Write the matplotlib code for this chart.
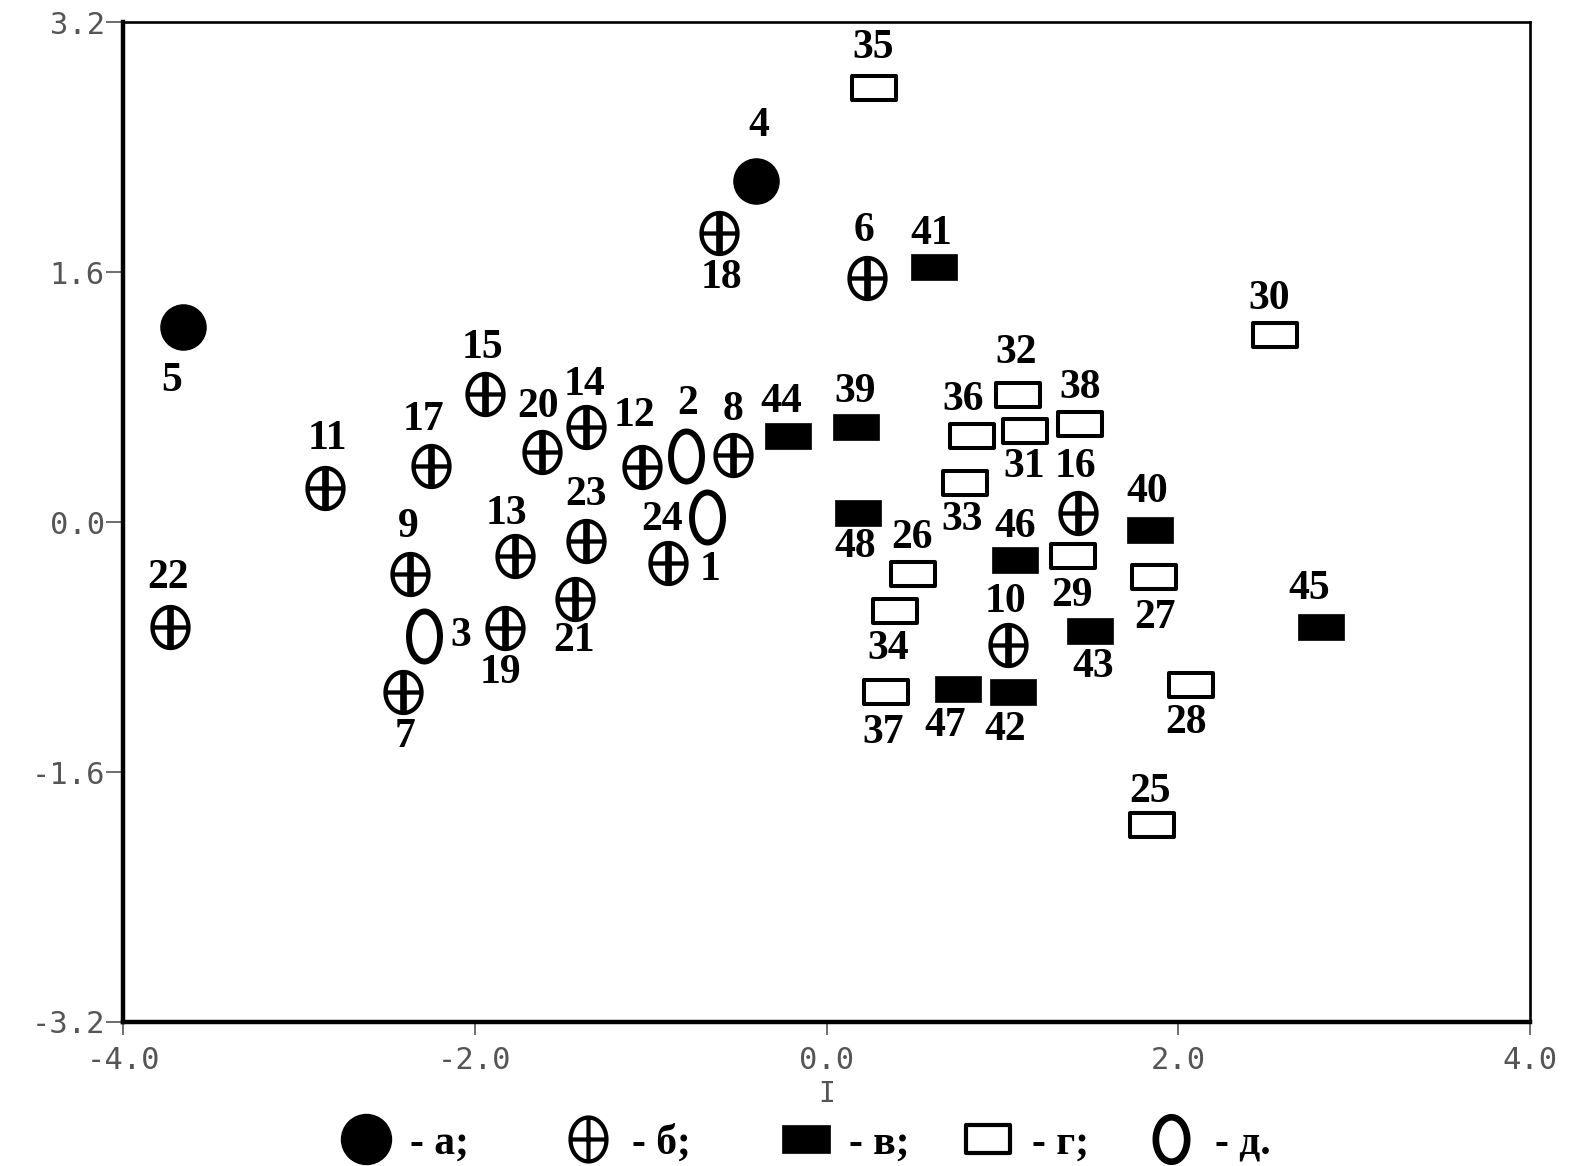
import numpy as np
import matplotlib
matplotlib.use("Agg")
import matplotlib.pyplot as plt
from matplotlib.path import Path
from matplotlib.lines import Line2D

# ---- data (component I vs component II) ----
grp_a_ids = [4, 5]
grp_a_x = [-0.40, -3.66]
grp_a_y = [2.18, 1.25]

grp_b_ids = [18, 6, 15, 14, 20, 17, 11, 12, 8, 23, 13, 9, 1, 21, 19, 22, 7, 16, 10]
grp_b_x = [-0.61, 0.23, -1.94, -1.37, -1.62, -2.25, -2.85, -1.05, -0.53, -1.37,
           -1.77, -2.37, -0.90, -1.43, -1.83, -3.73, -2.41, 1.43, 1.03]
grp_b_y = [1.85, 1.56, 0.82, 0.61, 0.45, 0.36, 0.22, 0.35, 0.43, -0.12,
           -0.22, -0.33, -0.26, -0.49, -0.68, -0.67, -1.09, 0.06, -0.79]

grp_v_ids = [41, 44, 39, 48, 46, 40, 43, 45, 47, 42]
grp_v_x = [0.61, -0.22, 0.17, 0.18, 1.07, 1.84, 1.50, 2.81, 0.75, 1.06]
grp_v_y = [1.63, 0.55, 0.61, 0.06, -0.24, -0.05, -0.70, -0.67, -1.07, -1.09]

grp_g_ids = [35, 30, 32, 38, 36, 31, 33, 29, 26, 27, 34, 37, 28, 25]
grp_g_x = [0.27, 2.55, 1.09, 1.44, 0.83, 1.13, 0.79, 1.40, 0.49, 1.86, 0.39, 0.34, 2.07, 1.85]
grp_g_y = [2.78, 1.20, 0.81, 0.63, 0.55, 0.58, 0.25, -0.22, -0.33, -0.35, -0.57, -1.09, -1.04, -1.94]

grp_d_ids = [2, 24, 3]
grp_d_x = [-0.80, -0.68, -2.29]
grp_d_y = [0.42, 0.03, -0.73]

legend_labels = ["- а;", "- б;", "- в;", "- г;", "- д."]
x_ticks = [-4.0, -2.0, 0.0, 2.0, 4.0]
y_ticks = [-3.2, -1.6, 0.0, 1.6, 3.2]

# label offsets in pixels (dx, dy), keyed by point number
label_off = {
    4: (3, 55), 5: (-11, -54),
    18: (2, -45), 6: (-3, 47), 15: (-3, 46), 14: (-1, 42), 20: (-4, 45),
    17: (-7, 46), 11: (2, 49), 12: (-7, 51), 8: (0, 45), 23: (0, 46),
    13: (-9, 42), 9: (-1, 47), 1: (42, -7), 21: (-1, -42), 19: (-4, -45),
    22: (-2, 49), 7: (2, -45), 16: (-3, 46), 10: (-2, 43),
    2: (2, 52), 24: (-45, -3), 3: (37, 0),
    41: (-3, 33), 44: (-7, 34), 39: (-1, 35), 48: (-3, -34), 46: (0, 33),
    40: (-3, 38), 43: (3, -36), 45: (-12, 38), 47: (-13, -37), 42: (-8, -38),
    35: (-1, 40), 30: (-6, 36), 32: (-2, 42), 38: (0, 36), 36: (-9, 36),
    31: (-1, -36), 33: (-3, -37), 29: (-1, -40), 26: (-1, 36), 27: (1, -41),
    34: (-7, -38), 37: (-3, -41), 28: (-5, -38), 25: (-2, 33),
}

# ---- custom marker shapes ----
t = np.linspace(0, 2 * np.pi, 60)


def ellipse_path(w, h, cross=False):
    verts = list(zip(0.5 * w * np.cos(t), 0.5 * h * np.sin(t)))
    codes = [Path.MOVETO] + [Path.LINETO] * (len(verts) - 2) + [Path.CLOSEPOLY]
    if cross:
        verts += [(0, -0.5 * h), (0, 0.5 * h), (-0.5 * w, 0), (0.5 * w, 0)]
        codes += [Path.MOVETO, Path.LINETO, Path.MOVETO, Path.LINETO]
    return Path(verts, codes)


def rect_path(w, h):
    verts = [(-w / 2, -h / 2), (w / 2, -h / 2), (w / 2, h / 2), (-w / 2, h / 2), (0, 0)]
    codes = [Path.MOVETO, Path.LINETO, Path.LINETO, Path.LINETO, Path.CLOSEPOLY]
    return Path(verts, codes)


m_cross = ellipse_path(36, 41, cross=True)
m_oval = ellipse_path(31, 50)
m_rect = rect_path(47, 27)
m_orect = rect_path(44, 24)

fig = plt.figure(figsize=(15.71, 11.66), dpi=100)
ax = fig.add_axes([0.0783, 0.1235, 0.8956, 0.8576])

serif = {"family": "Liberation Serif", "weight": "bold", "size": 30}

st_a = dict(marker="o", ms=32.5, mfc="black", mec="black", mew=1)
st_b = dict(marker=m_cross, ms=29.5, mfc="white", mec="black", mew=3.1)
st_v = dict(marker=m_rect, ms=33.5, mfc="black", mec="black", mew=0.5)
st_g = dict(marker=m_orect, ms=31.7, mfc="white", mec="black", mew=2.9)
st_d = dict(marker=m_oval, ms=36, mfc="none", mec="black", mew=4.3)

groups = [
    (grp_a_ids, grp_a_x, grp_a_y, st_a),
    (grp_b_ids, grp_b_x, grp_b_y, st_b),
    (grp_v_ids, grp_v_x, grp_v_y, st_v),
    (grp_g_ids, grp_g_x, grp_g_y, st_g),
    (grp_d_ids, grp_d_x, grp_d_y, st_d),
]

for ids, xs, ys, st in groups:
    ax.plot(xs, ys, ls="none", **st)
    if st is st_b:
        # heavier vertical bar of the crossed circle
        ax.plot(xs, ys, ls="none", marker="|", ms=29, mew=4.8, color="black")
    for i, x, y in zip(ids, xs, ys):
        dx, dy = label_off[i]
        ax.annotate(str(i), (x, y), xytext=(dx, dy), textcoords="offset pixels",
                    ha="center", va="center", **serif)

ax.set_xlim(-4, 4)
ax.set_ylim(-3.2, 3.2)
ax.set_xticks(x_ticks)
ax.set_yticks(y_ticks)
ax.set_xticklabels([f"{v:.1f}" for v in x_ticks])
ax.set_yticklabels([f"{v:.1f}" for v in y_ticks])

mono = {"family": "DejaVu Sans Mono", "size": 22, "color": "#555555"}
for lab in ax.get_xticklabels() + ax.get_yticklabels():
    lab.set_fontfamily(mono["family"])
    lab.set_fontsize(mono["size"])
    lab.set_color(mono["color"])
ax.tick_params(axis="x", direction="out", length=9, width=1.2, pad=8, color="#555555")
ax.tick_params(axis="y", direction="out", length=12, width=1.2, pad=1, color="#555555")
ax.set_xlabel("I", fontfamily=mono["family"], fontsize=20, color="#555555", labelpad=4)

for side in ["left", "bottom"]:
    ax.spines[side].set_linewidth(3.2)
for side in ["top", "right"]:
    ax.spines[side].set_linewidth(1.9)

# legend entries, each placed on its own along the bottom row
leg_handles = [
    Line2D([], [], ls="none", marker="o", ms=36, mfc="black", mec="black"),
    Line2D([], [], ls="none", marker=ellipse_path(36, 44, cross=True), ms=31.7,
           mfc="white", mec="black", mew=3.0),
    Line2D([], [], ls="none", marker=m_rect, ms=34, mfc="black", mec="black", mew=0.5),
    Line2D([], [], ls="none", marker=rect_path(44, 27), ms=31.7, mfc="white", mec="black", mew=3.0),
    Line2D([], [], ls="none", marker=ellipse_path(31, 44), ms=32, mfc="none", mec="black", mew=4.8),
]
leg_centers = [0.256, 0.397, 0.536, 0.651, 0.767]
for h, lab, cx in zip(leg_handles, legend_labels, leg_centers):
    fig.legend([h], [lab], loc="center", bbox_to_anchor=(cx, 0.019),
               frameon=False, handlelength=1.5, handletextpad=0.3, borderpad=0,
               prop={"family": "Liberation Serif", "weight": "bold", "size": 30})

fig.savefig("out.png", dpi=100)
